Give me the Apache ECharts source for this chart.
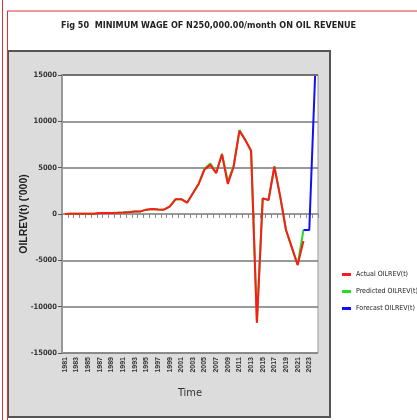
<!DOCTYPE html>
<html>
<head>
<meta charset="utf-8">
<script src="https://cdn.jsdelivr.net/npm/echarts@6/dist/echarts.min.js"></script>
<style>
  html, body { margin: 0; padding: 0; background: #fff; }
  #oilRevChart { width: 417px; height: 420px; }
</style>
</head>
<body>
<div id="oilRevChart"></div>
<script>
const years = [];
for (let y = 1981; y <= 2024; y++) years.push(String(y));

// OILREV(t), '000
const actualOilRev = [
  10, 15, 20, 20, 30, 30, 100, 110, 110, 130,
  160, 200, 260, 280, 470, 540, 480, 470, 790, 1590,
  1600, 1220, 2230, 3240, 4820, 5300, 4400, 6440, 3240, 5100,
  8990, 7990, 6830, -11730, 1690, 1510, 5100, 1900, -1730, -3600,
  -5500, -2910, null, null
];
const predictedOilRev = [
  10, 15, 20, 20, 30, 30, 100, 110, 110, 130,
  150, 210, 260, 280, 470, 540, 480, 470, 790, 1590,
  1600, 1220, 2230, 3300, 4900, 5450, 4500, 6500, 3500, 5200,
  9050, 8000, 6830, -11700, 1690, 1510, 5150, 1900, -1730, -3600,
  -5500, -1730, null, null
];
const forecastOilRev = [
  null, null, null, null, null, null, null, null, null, null,
  null, null, null, null, null, null, null, null, null, null,
  null, null, null, null, null, null, null, null, null, null,
  null, null, null, null, null, null, null, null, null, null,
  null, -1730, -1730, 14900
];

const sans = 'Liberation Sans, Arial, sans-serif';
const narrow = 'DejaVu Sans Condensed, Liberation Sans, sans-serif';

const chartDom = document.getElementById('oilRevChart');
const myChart = echarts.init(chartDom);

const option = {
  backgroundColor: '#fff',
  animation: false,
  title: {
    text: 'Fig 50  MINIMUM WAGE OF N250,000.00/month ON OIL REVENUE',
    left: 'center',
    top: 16,
    textStyle: {
      fontFamily: narrow,
      fontSize: 9,
      fontWeight: 'bold',
      color: '#222'
    }
  },
  graphic: [
    {
      type: 'rect',
      z: -10,
      shape: { x: 8, y: 51, width: 322, height: 366 },
      style: { fill: '#dcdcdc', stroke: '#555', lineWidth: 2 }
    },
    {
      type: 'line',
      z: -5,
      shape: { x1: 7, y1: 11, x2: 417, y2: 11 },
      style: { stroke: '#e03030', lineWidth: 1 }
    },
    {
      type: 'line',
      z: -5,
      shape: { x1: 7.5, y1: 11, x2: 7.5, y2: 420 },
      style: { stroke: '#e03030', lineWidth: 1 }
    },
    {
      type: 'line',
      z: -5,
      shape: { x1: 2.5, y1: 0, x2: 2.5, y2: 420 },
      style: { stroke: '#e03030', lineWidth: 1 }
    }
  ],
  grid: {
    show: true,
    left: 62,
    top: 75,
    width: 256,
    height: 278,
    backgroundColor: '#fff',
    borderColor: '#999',
    borderWidth: 1
  },
  legend: {
    orient: 'vertical',
    left: 337,
    top: 266,
    itemWidth: 9,
    itemHeight: 3,
    itemGap: 10,
    icon: 'rect',
    textStyle: {
      fontFamily: narrow,
      fontSize: 7,
      color: '#222'
    },
    data: ['Actual OILREV(t)', 'Predicted OILREV(t)', 'Forecast OILREV(t)']
  },
  xAxis: {
    type: 'category',
    data: years,
    boundaryGap: true,
    name: 'Time',
    nameLocation: 'middle',
    nameGap: 35,
    nameTextStyle: {
      fontFamily: narrow,
      fontSize: 11,
      color: '#333'
    },
    axisLine: { lineStyle: { color: '#999', width: 2 } },
    axisTick: { show: true, interval: 0, length: 4, lineStyle: { color: '#888' } },
    axisLabel: {
      interval: 1,
      rotate: 90,
      margin: 4,
      fontFamily: sans,
      fontSize: 7,
      fontWeight: 'bold',
      color: '#333'
    },
    splitLine: { show: false }
  },
  yAxis: {
    type: 'value',
    min: -15000,
    max: 15000,
    interval: 5000,
    name: "OILREV(t) ('000)",
    nameLocation: 'middle',
    nameMoveOverlap: false,
    nameGap: 32,
    nameTextStyle: {
      fontFamily: sans,
      fontSize: 10.5,
      fontWeight: 'bold',
      color: '#222'
    },
    axisLine: { show: true, lineStyle: { color: '#999', width: 2 } },
    axisTick: { show: true, length: 4, lineStyle: { color: '#555' } },
    axisLabel: {
      margin: 5,
      fontFamily: narrow,
      fontSize: 7.5,
      fontWeight: 'bold',
      color: '#333',
      formatter: (v) => String(v)
    },
    splitLine: {
      lineStyle: {
        color: ['#777', '#777', '#777', '#000', '#777', '#777', '#555'],
        width: 1.5
      }
    }
  },
  series: [
    {
      name: 'Predicted OILREV(t)',
      type: 'line',
      data: predictedOilRev,
      z: 2,
      showSymbol: false,
      lineStyle: { color: '#22dd22', width: 2 },
      itemStyle: { color: '#22dd22' }
    },
    {
      name: 'Actual OILREV(t)',
      type: 'line',
      data: actualOilRev,
      z: 3,
      showSymbol: false,
      lineStyle: { color: '#ff1a1a', width: 2 },
      itemStyle: { color: '#ff1a1a' }
    },
    {
      name: 'Forecast OILREV(t)',
      type: 'line',
      data: forecastOilRev,
      z: 4,
      showSymbol: false,
      lineStyle: { color: '#1010ff', width: 2 },
      itemStyle: { color: '#1010ff' }
    }
  ]
};

option && myChart.setOption(option);
</script>
</body>
</html>
